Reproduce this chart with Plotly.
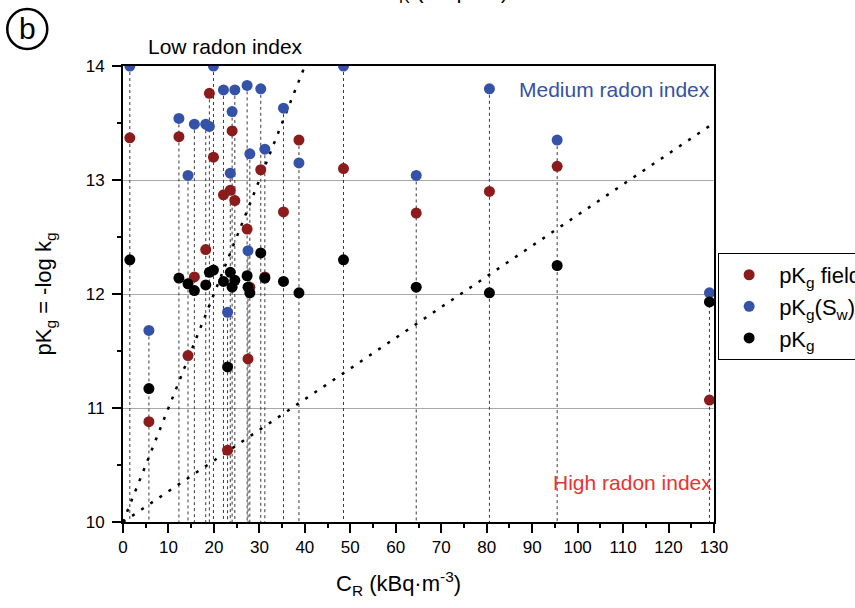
import plotly.graph_objects as go

# Radon concentration of each sampling point (kBq/m3)
c_r = [1.5, 5.7, 12.3, 14.3, 15.7, 18.2, 19.0, 19.9, 22.1, 23.0, 23.6, 24.0, 24.6,
       27.3, 27.5, 27.9, 30.3, 31.2, 35.3, 38.7, 48.5, 64.5, 80.6, 95.5, 129.0]

# Gas permeability indices at each point
pkg_field = [13.37, 10.88, 13.38, 11.46, 12.15, 12.39, 13.76, 13.20, 12.87, 10.63, 12.91, 13.43, 12.82,
             12.57, 11.43, 12.06, 13.09, 12.15, 12.72, 13.35, 13.10, 12.71, 12.90, 13.12, 11.07]
pkg_sw = [14.00, 11.68, 13.54, 13.04, 13.49, 13.49, 13.47, 14.00, 13.79, 11.84, 13.06, 13.60, 13.79,
          13.83, 12.38, 13.23, 13.80, 13.27, 13.63, 13.15, 14.00, 13.04, 13.80, 13.35, 12.01]
pkg = [12.30, 11.17, 12.14, 12.09, 12.03, 12.08, 12.19, 12.21, 12.11, 11.36, 12.19, 12.06, 12.12,
       12.16, 12.06, 12.01, 12.36, 12.14, 12.11, 12.01, 12.30, 12.06, 12.01, 12.25, 11.93]

# Radon index boundaries
low_med_x = [0, 40]
low_med_y = [10, 14]
med_high_x = [0, 130]
med_high_y = [10, 13.5]

x_ticks = list(range(0, 131, 10))
y_ticks = [10, 11, 12, 13, 14]
y_floor = 10

FONT = "Arial, Liberation Sans, sans-serif"
RED = "#8c1b1b"
BLUE = "#3452a8"
X_TITLE = "C<sub>R</sub> (kBq·m<sup>-3</sup>)"

fig = go.Figure()

# vertical drop lines from the highest value of each point to the x axis
drop_x, drop_y = [], []
for xi, a, b, c in zip(c_r, pkg_field, pkg_sw, pkg):
    drop_x += [xi, xi, None]
    drop_y += [max(a, b, c), y_floor, None]
fig.add_trace(go.Scatter(x=drop_x, y=drop_y, mode="lines",
                         line=dict(color="#3a3a3a", width=1, dash="3px,3px"),
                         showlegend=False, hoverinfo="skip"))

# radon index boundary lines
for bx, by in ((low_med_x, low_med_y), (med_high_x, med_high_y)):
    fig.add_trace(go.Scatter(x=bx, y=by, mode="lines",
                             line=dict(color="black", width=2.5, dash="3px,8px"),
                             showlegend=False, hoverinfo="skip"))

fig.add_trace(go.Scatter(x=c_r, y=pkg_field, mode="markers", name="pK<sub>g</sub> field",
                         marker=dict(color=RED, size=11)))
fig.add_trace(go.Scatter(x=c_r, y=pkg_sw, mode="markers", name="pK<sub>g</sub>(S<sub>w</sub>)",
                         marker=dict(color=BLUE, size=11)))
fig.add_trace(go.Scatter(x=c_r, y=pkg, mode="markers", name="pK<sub>g</sub>",
                         marker=dict(color="black", size=11)))

axis_common = dict(showline=True, linewidth=2, linecolor="black", mirror=True,
                   ticks="outside", ticklen=9, tickwidth=1.5, tickcolor="black",
                   zeroline=False, tickfont=dict(family=FONT, size=17, color="black"))

fig.update_xaxes(range=[0, 130], tickvals=x_ticks, showgrid=False,
                 minor=dict(dtick=5, ticks="outside", ticklen=4, tickcolor="black"),
                 **axis_common)
fig.update_yaxes(range=[10, 14], tickvals=y_ticks, showgrid=True, gridcolor="#a8a8a8", gridwidth=1,
                 ticklabelstandoff=4,
                 minor=dict(dtick=0.5, ticks="outside", ticklen=4, tickcolor="black", showgrid=False),
                 title=dict(text="pK<sub>g</sub> = -log k<sub>g</sub>",
                            font=dict(family=FONT, size=22, color="black"), standoff=28),
                 **axis_common)

# x axis title
fig.add_annotation(text=X_TITLE, xref="paper", yref="paper",
                   x=0.467, y=-0.134, showarrow=False, xanchor="center", yanchor="middle",
                   font=dict(family=FONT, size=22, color="black"))

fig.add_annotation(text="Low radon index", xref="paper", yref="paper",
                   x=0.174, y=1.042, showarrow=False, xanchor="center", yanchor="middle",
                   font=dict(family=FONT, size=21, color="black"))
fig.add_annotation(text="Medium radon index", xref="x", yref="y",
                   x=129.6, y=13.79, showarrow=False, xanchor="right", yanchor="middle",
                   font=dict(family=FONT, size=21, color=BLUE))
fig.add_annotation(text="High radon index", xref="x", yref="y",
                   x=129.9, y=10.35, showarrow=False, xanchor="right", yanchor="middle",
                   font=dict(family=FONT, size=21, color="#e63431"))

# panel label
fig.add_shape(type="circle", xref="paper", yref="paper",
              xsizemode="pixel", ysizemode="pixel",
              xanchor=-0.162, yanchor=1.081, x0=-20, x1=20, y0=-20, y1=20,
              line=dict(color="black", width=2.5))
fig.add_annotation(text="b", xref="paper", yref="paper", x=-0.162, y=1.083,
                   showarrow=False, xanchor="center", yanchor="middle",
                   font=dict(family=FONT, size=30, color="black"))

# axis title of the panel above, mostly out of frame
fig.add_annotation(text=X_TITLE, xref="paper", yref="paper",
                   x=0.545, y=1.127, showarrow=False, xanchor="center", yanchor="bottom",
                   font=dict(family=FONT, size=22, color="black"))

fig.update_layout(
    width=855, height=608,
    margin=dict(l=123, r=141, t=66, b=86, autoexpand=False),
    paper_bgcolor="white", plot_bgcolor="white",
    font=dict(family=FONT, color="black"),
    legend=dict(x=1.007, xanchor="left", y=0.59, yanchor="top",
                bordercolor="black", borderwidth=1, bgcolor="white", itemwidth=50,
                font=dict(family=FONT, size=22, color="black")),
)

fig.write_html("out.html")
